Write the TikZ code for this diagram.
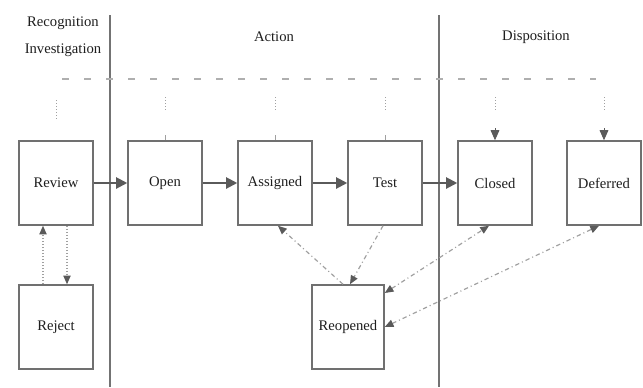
\documentclass[tikz,border=0pt]{standalone}
\usepackage{fontspec}
\setmainfont{Liberation Serif}
\usetikzlibrary{arrows.meta}
\definecolor{boxline}{RGB}{112,112,112}
\definecolor{flow}{RGB}{90,90,90}
\definecolor{lane}{RGB}{115,115,115}
\definecolor{guide}{RGB}{175,175,175}
\definecolor{faint}{RGB}{160,160,160}
\definecolor{txt}{RGB}{30,30,30}
\begin{document}
\begin{tikzpicture}[x=0.03cm,y=-0.03cm,
  state/.style={draw=boxline, line width=1.3pt, minimum width=2.22cm,
    minimum height=2.52cm, inner sep=0pt, text=txt,
    font=\fontsize{12.5}{14}\selectfont},
  header/.style={text=txt, font=\fontsize{12.5}{14}\selectfont, inner sep=0pt},
  flowarrow/.style={draw=flow, line width=1.7pt,
    -{Triangle[length=0.33cm,width=0.33cm]}},
  lanesep/.style={draw=lane, line width=1.1pt},
  guideline/.style={draw=guide, line width=1.2pt,
    dash pattern=on 0.21cm off 0.45cm},
  stub/.style={draw=faint, line width=0.8pt, dash pattern=on 0.04cm off 0.05cm},
  tick/.style={draw=faint, line width=0.8pt},
  feedtip/.style={draw=flow, line width=0.8pt,
    -{Triangle[length=0.3cm,width=0.26cm]}},
  loop/.style={draw=faint, line width=0.9pt,
    dash pattern=on 0.04cm off 0.05cm,
    arrows={-{Triangle[length=0.26cm,width=0.22cm,color=flow]}}},
  rework/.style={draw=faint, line width=1pt,
    dash pattern=on 0.13cm off 0.09cm on 0.03cm off 0.09cm,
    arrows={-{Triangle[length=0.26cm,width=0.22cm,color=flow]}}},
  reworkboth/.style={rework,
    arrows={{Triangle[length=0.26cm,width=0.22cm,color=flow]}-{Triangle[length=0.26cm,width=0.22cm,color=flow]}}}
]
\useasboundingbox (0,0) rectangle (643,387);
\fill[white] (0,0) rectangle (643,387);

% swim-lane headers
\node[header] (hRec) at (63,23) {Recognition};
\node[header] (hInv) at (63,50) {Investigation};
\node[header] (hAct) at (274,37) {Action};
\node[header] (hDis) at (536,37) {Disposition};

% lane separators
\coordinate (s1t) at (110,15); \coordinate (s1b) at (110,387);
\coordinate (s2t) at (439,15); \coordinate (s2b) at (439,387);
\draw[lanesep] (s1t) -- (s1b);
\draw[lanesep] (s2t) -- (s2b);

% dashed guide line
\coordinate (gL) at (62,79); \coordinate (gR) at (596,79);
\draw[guideline] (gL) -- (gR);

% states
\node[state] (review)   at (56,183)  {Review};
\node[state] (reject)   at (56,327)  {Reject};
\node[state] (open)     at (165,183) {Open};
\node[state] (assigned) at (275,183) {Assigned};
\node[state] (test)     at (385,183) {Test};
\node[state, minimum width=2.16cm] (reopened) at (348,327) {Reopened};
\node[state] (closed)   at (495,183) {Closed};
\node[state] (deferred) at (604,183) {Deferred};

% main flow
\draw[flowarrow] (review) -- (open);
\draw[flowarrow] (open) -- (assigned);
\draw[flowarrow] (assigned) -- (test);
\draw[flowarrow] (test) -- (closed);

% short stubs hanging from the guide line
\coordinate (rvA) at (56,100); \coordinate (rvB) at (56,120);
\draw[stub] (rvA) -- (rvB);
\foreach \n/\x in {op/165,as/275,te/385}{
  \coordinate (\n A) at (\x,97); \coordinate (\n B) at (\x,110);
  \draw[stub] (\n A) -- (\n B);
}
\coordinate (opT) at (165,135); \draw[tick] (opT) -- (open.north);
\coordinate (asT) at (275,135); \draw[tick] (asT) -- (assigned.north);
\coordinate (teT) at (385,135); \draw[tick] (teT) -- (test.north);
\coordinate (clA) at (495,97); \coordinate (clB) at (495,111);
\coordinate (deA) at (604,97); \coordinate (deB) at (604,111);
\draw[stub] (clA) -- (clB);
\draw[stub] (deA) -- (deB);
\coordinate (clT) at (495,128); \draw[feedtip] (clT) -- (closed.north);
\coordinate (deT) at (604,128); \draw[feedtip] (deT) -- (deferred.north);

% review / reject exchange
\draw[loop] ([xshift=-0.39cm]reject.north) -- ([xshift=-0.39cm]review.south);
\draw[loop] ([xshift=0.33cm]review.south) -- ([xshift=0.33cm]reject.north);

% rework paths
\draw[rework] ([xshift=-0.15cm]reopened.north) -- ([xshift=0.09cm]assigned.south);
\draw[rework] ([xshift=-0.06cm]test.south) -- ([xshift=0.06cm]reopened.north);
\draw[reworkboth] ([yshift=1.02cm]reopened.east) -- ([xshift=-0.18cm]closed.south);
\draw[reworkboth] (reopened.east) -- ([xshift=-0.15cm]deferred.south);
\end{tikzpicture}
\end{document}
